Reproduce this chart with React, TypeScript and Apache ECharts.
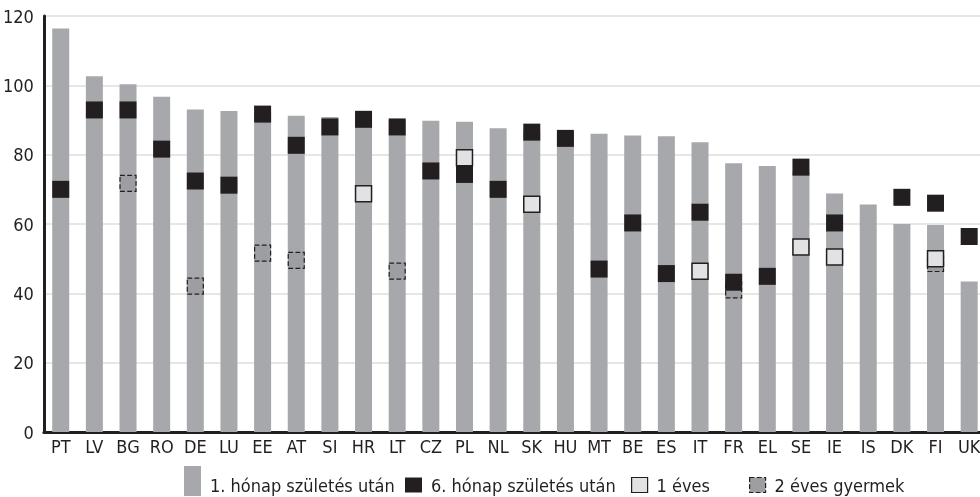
import React, { useEffect, useRef } from "react";
import * as echarts from "echarts";

const categories = ["PT","LV","BG","RO","DE","LU","EE","AT","SI","HR","LT","CZ","PL","NL","SK","HU","MT","BE","ES","IT","FR","EL","SE","IE","IS","DK","FI","UK"];
const month1 = [116.4,102.6,100.3,96.7,93.0,92.6,92.0,91.2,90.9,90.3,90.0,89.8,89.5,87.6,86.8,86.3,86.0,85.5,85.3,83.6,77.5,76.7,75.0,68.8,65.6,60.0,59.7,43.4];
const month6 = [70,92.9,92.9,81.6,72.4,71.2,91.7,82.7,88.0,90.2,88.0,75.3,74.3,70.0,86.5,84.7,47.0,60.3,45.7,63.4,43.2,44.9,76.4,60.3,null,67.7,66.0,56.4];
const year1 = [null,null,null,null,null,null,null,null,null,68.7,null,null,79.1,null,65.7,null,null,null,null,46.4,null,null,53.4,50.5,null,null,50.0,null];
const year2 = [null,null,71.7,null,42.1,null,51.6,49.5,null,null,46.4,null,null,null,null,null,null,null,null,null,41.0,null,null,null,null,null,48.6,null];
const yTicks = { min: 0, max: 120, interval: 20 };

const FONT = '"Liberation Sans Narrow", "DejaVu Sans Condensed", sans-serif';
const DARK = "#231f20";
const BAR = "#a7a8ab";

const names = ["1. hónap születés után", "6. hónap születés után", "1 éves", "2 éves gyermek"];

export default function App() {
  const ref = useRef<HTMLDivElement>(null);
  useEffect(() => {
    if (!ref.current) return;
    document.documentElement.style.overflow = "hidden";
    document.body.style.overflow = "hidden";
    const chart = echarts.init(ref.current, null, { renderer: "svg" });
    const legendLefts = [184, 405, 631, 749];
    const legendW = [17, 17, 16, 16];
    const legendStyles = [
      { color: BAR, borderWidth: 0 },
      { color: DARK, borderWidth: 0 },
      { color: "#e1e2e3", borderColor: DARK, borderWidth: 1.2 },
      { color: "#9d9ea1", borderColor: DARK, borderWidth: 1.2, borderType: "dashed" },
    ];
    chart.setOption({
      animation: false,
      grid: { left: 43, right: 0, top: 16, bottom: 65 },
      graphic: [
        { type: "rect", left: 184, top: 466, shape: { width: 17, height: 30 }, style: { fill: BAR }, z: 0 },
      ],
      legend: names.map((n, i) => ({
        data: [{ name: n, icon: "rect", itemStyle: legendStyles[i] }],
        left: legendLefts[i],
        top: 476,
        padding: 0,
        itemWidth: legendW[i],
        itemHeight: 15,
        selectedMode: false,
        textStyle: { fontFamily: FONT, fontSize: 18, color: DARK, padding: [0, 0, 0, 4] },
      })),
      xAxis: {
        type: "category",
        data: categories,
        axisLine: { lineStyle: { color: DARK, width: 3 } },
        axisTick: { inside: true, length: 10, lineStyle: { color: DARK, width: 3 }, interval: 0 },
        axisLabel: { fontFamily: FONT, fontSize: 18, color: DARK, margin: 5, interval: 0 },
      },
      yAxis: {
        type: "value",
        min: yTicks.min,
        max: yTicks.max,
        interval: yTicks.interval,
        axisLine: { show: true, lineStyle: { color: DARK, width: 3 } },
        axisTick: { show: false },
        axisLabel: { fontFamily: FONT, fontSize: 18, color: DARK, margin: 10 },
        splitLine: { lineStyle: { color: "#dedede", width: 1.5 } },
      },
      series: [
        { name: names[0], type: "bar", data: month1, barWidth: 17, itemStyle: { color: BAR }, z: 1 },
        {
          name: names[3], type: "scatter", data: year2, symbol: "rect", symbolSize: 16, z: 3,
          itemStyle: { color: "#9d9ea1", borderColor: DARK, borderWidth: 1.2, borderType: "dashed", opacity: 1 },
        },
        {
          name: names[1], type: "scatter", data: month6, symbol: "rect", symbolSize: 17, z: 4,
          itemStyle: { color: DARK, opacity: 1 },
        },
        {
          name: names[2], type: "scatter", data: year1, symbol: "rect", symbolSize: 16, z: 5,
          itemStyle: { color: "#e1e2e3", borderColor: DARK, borderWidth: 1.5, opacity: 1 },
        },
      ],
    });
    return () => chart.dispose();
  }, []);
  return <div ref={ref} style={{ position: "fixed", left: 0, top: 0, width: 986, height: 497 }} />;
}
